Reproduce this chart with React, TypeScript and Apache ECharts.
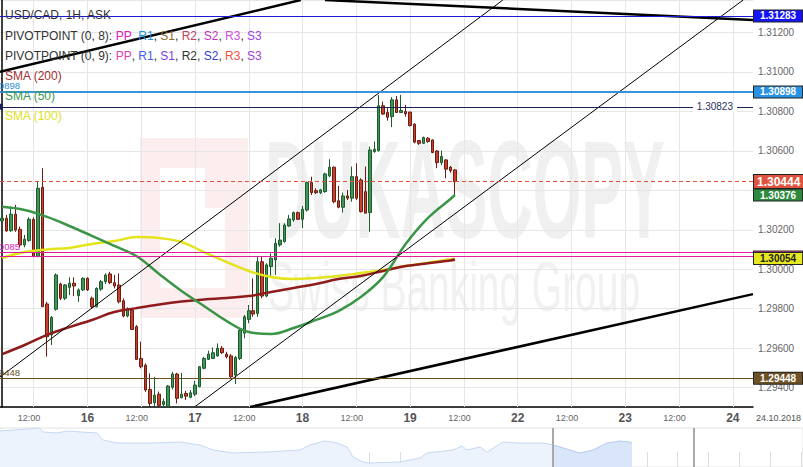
import React, { useEffect, useRef } from 'react';
import * as echarts from 'echarts';

const FONT = '"Liberation Sans", Arial, Helvetica, sans-serif';

// ---- time axis (1H slots, weekend collapsed) ----
const DAY_NAMES = ['15', '16', '17', '18', '19', '22', '23', '24'];
const FIRST_HOUR = 5;
const SLOT_COUNT = 168;

// ---- candles (USD/CAD 1H ASK) ----
const open = [1.30245,1.30258,1.30195,1.30279,1.30202,1.30123,1.30145,1.30253,1.30064,1.30415,
1.29824,1.29667,1.29797,1.29925,1.29853,1.29908,1.29929,1.29866,1.29895,1.29954,
1.29853,1.29810,1.29899,1.29937,1.29976,1.29932,1.29920,1.29840,1.29763,1.29793,
1.29709,1.29548,1.29514,1.29391,1.29323,1.29367,1.29315,1.29305,1.29402,1.29469,
1.29349,1.29371,1.29351,1.29367,1.29405,1.29498,1.29543,1.29548,1.29561,1.29600,
1.29570,1.29561,1.29464,1.29548,1.29676,1.29746,1.29790,1.29776,1.30038,1.29864,
1.30013,1.30047,1.30123,1.30140,1.30219,1.30250,1.30287,1.30253,1.30300,1.30439,
1.30398,1.30388,1.30393,1.30473,1.30517,1.30347,1.30314,1.30371,1.30360,1.30469,
1.30452,1.30393,1.30287,1.30596,1.30601,1.30828,1.30794,1.30773,1.30858,1.30794,
1.30799,1.30796,1.30735,1.30652,1.30638,1.30664,1.30655,1.30599,1.30540,1.30554,
1.30517,1.30503];
const close = [1.30258,1.30194,1.30279,1.30199,1.30123,1.30152,1.30253,1.30064,1.30410,1.29810,
1.29658,1.29756,1.29971,1.29853,1.29920,1.29929,1.29915,1.29895,1.29954,1.29895,
1.29810,1.29903,1.29937,1.29971,1.29932,1.29915,1.29835,1.29763,1.29797,1.29695,
1.29543,1.29506,1.29388,1.29320,1.29362,1.29310,1.29330,1.29408,1.29469,1.29346,
1.29367,1.29357,1.29374,1.29413,1.29506,1.29548,1.29570,1.29577,1.29600,1.29577,
1.29556,1.29455,1.29553,1.29692,1.29759,1.29790,1.29773,1.30038,1.29864,1.30022,
1.30056,1.30131,1.30148,1.30224,1.30255,1.30287,1.30253,1.30304,1.30439,1.30388,
1.30388,1.30402,1.30483,1.30517,1.30342,1.30314,1.30371,1.30360,1.30469,1.30360,
1.30292,1.30284,1.30604,1.30608,1.30828,1.30786,1.30770,1.30858,1.30794,1.30804,
1.30787,1.30728,1.30644,1.30638,1.30667,1.30647,1.30591,1.30540,1.30571,1.30507,
1.30500,1.30444];
const low = [1.30241,1.30190,1.30190,1.30190,1.30111,1.30111,1.30140,1.30061,1.30061,1.29810,
1.29557,1.29616,1.29790,1.29844,1.29844,1.29869,1.29864,1.29835,1.29891,1.29890,
1.29802,1.29807,1.29891,1.29925,1.29925,1.29903,1.29827,1.29756,1.29756,1.29692,
1.29540,1.29498,1.29379,1.29305,1.29305,1.29300,1.29300,1.29300,1.29391,1.29320,
1.29346,1.29337,1.29346,1.29357,1.29402,1.29493,1.29540,1.29548,1.29557,1.29570,
1.29548,1.29443,1.29418,1.29540,1.29650,1.29726,1.29759,1.29759,1.29853,1.29858,
1.29962,1.29971,1.30114,1.30135,1.30216,1.30241,1.30250,1.30208,1.30292,1.30376,
1.30381,1.30381,1.30388,1.30466,1.30334,1.30309,1.30287,1.30351,1.30342,1.30351,
1.30287,1.30284,1.30190,1.30590,1.30596,1.30782,1.30753,1.30720,1.30791,1.30791,
1.30773,1.30723,1.30638,1.30630,1.30635,1.30641,1.30588,1.30512,1.30528,1.30461,
1.30489,1.30376];
const high = [1.30304,1.30275,1.30317,1.30326,1.30216,1.30174,1.30263,1.30263,1.30444,1.30512,
1.29835,1.29763,1.29979,1.29932,1.29925,1.29959,1.29959,1.29903,1.29959,1.29959,
1.29861,1.29908,1.29946,1.29979,1.29987,1.29971,1.29979,1.29853,1.29807,1.29802,
1.29717,1.29633,1.29523,1.29472,1.29455,1.29380,1.29345,1.29413,1.29480,1.29475,
1.29475,1.29384,1.29388,1.29435,1.29510,1.29556,1.29587,1.29604,1.29624,1.29611,
1.29582,1.29570,1.29561,1.29700,1.29768,1.29819,1.29954,1.30064,1.30064,1.30030,
1.30081,1.30157,1.30233,1.30233,1.30275,1.30292,1.30292,1.30321,1.30444,1.30469,
1.30410,1.30407,1.30489,1.30557,1.30520,1.30422,1.30388,1.30402,1.30520,1.30537,
1.30461,1.30520,1.30621,1.30647,1.30883,1.30849,1.30816,1.30872,1.30878,1.30883,
1.30833,1.30799,1.30740,1.30655,1.30672,1.30669,1.30658,1.30604,1.30601,1.30557,
1.30523,1.30507];

// ---- moving averages (sampled at candle indices) ----
const smaIndex = [0,5,10,15,20,25,30,35,40,45,50,55,60,65,70,75,80,85,90,95,100,101];
const sma200 = [1.29570,1.29616,1.29667,1.29707,1.29743,1.29783,1.29803,1.29821,1.29836,1.29847,1.29854,1.29864,1.29885,1.29905,1.29925,1.29950,1.29966,1.29991,1.30016,1.30030,1.30044,1.30049];
const sma100 = [1.30057,1.30087,1.30100,1.30108,1.30128,1.30143,1.30163,1.30158,1.30138,1.30087,1.30037,1.29991,1.29961,1.29950,1.29956,1.29966,1.29981,1.29996,1.30016,1.30033,1.30050,1.30054];
const sma50 = [1.30316,1.30300,1.30265,1.30219,1.30169,1.30118,1.30066,1.29976,1.29890,1.29814,1.29738,1.29682,1.29672,1.29702,1.29743,1.29788,1.29859,1.29961,1.30128,1.30260,1.30356,1.30376];

// ---- horizontal levels ----
const LEVEL_TOP = 1.31283;
const LEVEL_R1 = 1.30898;
const LEVEL_MEASURE = 1.30823;
const LEVEL_PP8 = 1.30085;
const LEVEL_PP9 = 1.30068;
const LEVEL_S1 = 1.29448;
// axis labels hidden behind the price tags
const HIDDEN_TICKS = ['1.30400'];

// ---- trend lines: [slot index, price] pairs ----
const trendThickUpper = [[-0.5, 1.31000], [66.6, 1.31364]];
const trendThickTop = [[72.0, 1.31364], [167.5, 1.31263]];
const trendThickLower = [[55.3, 1.29302], [167.5, 1.29874]];
const channelUpper = [[-0.5, 1.29454], [111.7, 1.31364]];
const channelLower = [[42.9, 1.29302], [165.3, 1.31364]];

// ---- navigator ----
const navLightX = [0,4.0,4.3,5.7,6.7,9.7,10.3,11.7,15.3,18.0,20.0,21.3,23.3,26.7,30.0,31.0,32.5,33.7,34.7,35.3,36.3,37.0,40.0,42.0,42.7,45.3,46.2,46.7,48.0,48.7,50.3,51.7,54.3,55.3];
const navLightY = [1.316,1.319,1.315,1.314,1.316,1.314,1.307,1.304,1.304,1.305,1.302,1.297,1.294,1.295,1.297,1.302,1.306,1.304,1.300,1.290,1.285,1.284,1.285,1.289,1.294,1.297,1.301,1.297,1.300,1.295,1.305,1.304,1.304,1.302];
const navDarkX = [55.3,56.0,58.0,59.3,60.7,62.0,63.0,63.2];
const navDarkY = [1.302,1.300,1.294,1.297,1.304,1.306,1.305,1.304];
const navHandles = [55.3, 69.4];

function buildCategories() {
  const out: string[] = [];
  for (let k = 0; k < SLOT_COUNT; k++) {
    const t = FIRST_HOUR + k;
    const day = DAY_NAMES[Math.floor(t / 24)];
    const hh = String(t % 24).padStart(2, '0');
    out.push(`${day} ${hh}:00`);
  }
  return out;
}

const isMajor = (name: string) => name.endsWith(' 00:00') || name.endsWith(' 12:00');
const INVISIBLE = 'rgba(0,0,0,0)';

function tag(bg: string, fg: string, size = 10) {
  return {
    show: true,
    position: 'end',
    distance: 1,
    formatter: (p: any) => Number(p.value).toFixed(5),
    backgroundColor: bg,
    color: fg,
    fontSize: size,
    lineHeight: size + 1,
    fontWeight: 'bold',
    fontFamily: FONT,
    padding: size > 10 ? [0, 3, 0, 3] : [0, 6, 0, 6],
    borderColor: '#222',
    borderWidth: 1,
  };
}

function leftCut(color: string) {
  return {
    show: true,
    position: 'insideStartTop',
    align: 'right',
    distance: [20, 1],
    formatter: (p: any) => Number(p.value).toFixed(5),
    color,
    fontSize: 9.5,
    fontFamily: FONT,
  };
}

function buildOption() {
  const categories = buildCategories();
  const candleData = open.map((o, i) => [o, close[i], low[i], high[i]]);
  const pairs = (vals: number[]) => vals.map((v, i) => [smaIndex[i], v]);
  const lastClose = close[close.length - 1];

  const legendLines: { y: number; segs: [string, string][] }[] = [
    { y: 15, segs: [['USD/CAD, 1H, ASK', '#333']] },
    { y: 36, segs: [['PIVOTPOINT (0, 8): ', '#333'], ['PP', '#e020c0'], [', ', '#333'], ['R1', '#2090e8'], [', ', '#333'], ['S1', '#8b6a2a'], [', ', '#333'], ['R2', '#c04060'], [', ', '#333'], ['S2', '#c030c0'], [', ', '#333'], ['R3', '#d050e0'], [', ', '#333'], ['S3', '#a040e0']] },
    { y: 56, segs: [['PIVOTPOINT (0, 9): ', '#333'], ['PP', '#e040b0'], [', ', '#333'], ['R1', '#4060f0'], [', ', '#333'], ['S1', '#8040e0'], [', ', '#333'], ['R2', '#333'], [', ', '#333'], ['S2', '#3040d0'], [', ', '#333'], ['R3', '#f05040'], [', ', '#333'], ['S3', '#a040e0']] },
    { y: 76, segs: [['SMA (200)', '#a03030']] },
    { y: 96, segs: [['SMA (50)', '#3a9a50']] },
    { y: 116, segs: [['SMA (100)', '#e0e020']] },
  ];
  const legendGraphics = legendLines.map((ln) => {
    const rich: any = {};
    let text = '';
    ln.segs.forEach((s, i) => {
      rich['s' + i] = { fill: s[1], fontSize: 12, fontFamily: FONT };
      text += `{s${i}|${s[0]}}`;
    });
    return {
      type: 'text', x: 5, y: ln.y, z: 100,
      style: { text, rich, fontSize: 12, fontFamily: FONT, verticalAlign: 'middle', fill: '#333' },
    };
  });

  const trendSeries = [
    { d: trendThickUpper, w: 2.5 },
    { d: trendThickTop, w: 2.5 },
    { d: trendThickLower, w: 2.5 },
    { d: channelUpper, w: 1 },
    { d: channelLower, w: 1 },
  ].map((t) => ({
    type: 'line', xAxisIndex: 1, yAxisIndex: 0, data: t.d, showSymbol: false, clip: true, silent: true,
    lineStyle: { color: '#000', width: t.w }, z: 3,
  }));

  return {
    animation: false,
    backgroundColor: '#ffffff',
    textStyle: { fontFamily: FONT },
    grid: [
      { left: 0, top: 0, right: 50, bottom: 60 },
      { left: 0, right: 0, top: 428, bottom: 0, show: true, borderColor: '#e2e2e2', borderWidth: 1, backgroundColor: 'transparent' },
    ],
    xAxis: [
      {
        type: 'category', gridIndex: 0, data: categories, boundaryGap: true,
        axisLine: { show: true, lineStyle: { color: '#000', width: 1.5 } },
        axisTick: { show: false },
        splitLine: { show: false },
        axisLabel: {
          interval: (idx: number, val: string) => isMajor(val),
          margin: 4,
          formatter: (val: string) => {
            const [d, t] = val.split(' ');
            return t === '00:00' ? `{d|${d}}` : `{h|${t}}`;
          },
          rich: {
            d: { fontSize: 12, fontWeight: 'bold', color: '#555', lineHeight: 14, fontFamily: FONT },
            h: { fontSize: 9, color: '#666', lineHeight: 14, padding: [0, 9, 0, 0], fontFamily: FONT },
          },
        },
      },
      { type: 'value', gridIndex: 0, min: -0.5, max: SLOT_COUNT - 0.5, show: false },
      {
        type: 'value', gridIndex: 1, min: 0, max: 80.3, interval: 3.08,
        axisLine: { show: false }, axisLabel: { show: false }, splitLine: { show: false },
        axisTick: { show: true, inside: true, length: 15, lineStyle: { color: '#dedede' } },
      },
    ],
    yAxis: [
      {
        type: 'value', gridIndex: 0, position: 'right', min: 1.29302, max: 1.31364, splitNumber: 10,
        axisLine: { show: true, lineStyle: { color: '#000', width: 1.5 } },
        axisTick: { show: false },
        axisLabel: {
          color: '#666', fontSize: 10, margin: 5, fontFamily: FONT, showMinLabel: false, showMaxLabel: false,
          formatter: (v: number) => (HIDDEN_TICKS.includes(v.toFixed(5)) ? '' : v.toFixed(5)),
        },
        splitLine: { show: true, lineStyle: { color: '#e6e6e6', width: 1 } },
      },
      { type: 'value', gridIndex: 1, min: 1.280, max: 1.319, show: false },
    ],
    graphic: [
      { type: 'rect', z: -10, shape: { x: 140, y: 138, width: 108, height: 180 }, style: { fill: '#fcedef' } },
      { type: 'rect', z: -9, shape: { x: 160, y: 168, width: 45, height: 120 }, style: { fill: '#ffffff' } },
      { type: 'rect', z: -9, shape: { x: 205, y: 208, width: 20, height: 80 }, style: { fill: '#ffffff' } },
      { type: 'text', z: -10, x: 265, y: 190, scaleX: 0.447, style: { text: 'DUKASCOPY', font: `bold 140px ${FONT}`, fill: '#f0f0f0', verticalAlign: 'middle' } },
      { type: 'text', z: -10, x: 268, y: 287, scaleX: 0.556, style: { text: 'Swiss Banking Group', font: `70px ${FONT}`, fill: '#f1f1f1', verticalAlign: 'middle' } },
      ...legendGraphics,
      { type: 'text', x: 756, y: 418, z: 100, style: { text: '24.10.2018', fontSize: 9, fontFamily: FONT, fill: '#555', verticalAlign: 'middle' } },
    ],
    series: [
      {
        type: 'candlestick', xAxisIndex: 0, yAxisIndex: 0, data: candleData, barWidth: 3, clip: true,
        itemStyle: { color: '#3f9457', color0: '#c8402e', borderColor: '#1d5a2c', borderColor0: '#6b1d12', borderWidth: 1 },
        markLine: {
          silent: true, symbol: 'none', z: 1, label: { show: false },
          lineStyle: { color: '#e6e6e6', width: 1, type: 'solid' },
          data: categories.filter(isMajor).map((c) => ({ xAxis: c })),
        },
      },
      {
        type: 'line', name: 'SMA (100)', xAxisIndex: 1, yAxisIndex: 0, data: pairs(sma100), smooth: 0.4, showSymbol: false,
        lineStyle: { color: '#e4e41c', width: 2.5 },
      },
      {
        type: 'line', name: 'SMA (200)', xAxisIndex: 1, yAxisIndex: 0, data: pairs(sma200), smooth: 0.4, showSymbol: false,
        lineStyle: { color: '#8e1c1c', width: 2.5 },
        markLine: {
          silent: true, symbol: 'none', precision: 6, z: 6,
          data: [
            { yAxis: LEVEL_TOP, lineStyle: { color: '#1a1ad0', width: 1, type: 'solid' }, label: tag('#1414f5', '#fff') },
            { yAxis: LEVEL_R1, lineStyle: { color: '#2b8cd8', width: 1.5, type: 'solid' }, label: tag('#2a92e2', '#fff') },
            { yAxis: LEVEL_R1, lineStyle: { color: '#2b8cd8', width: 1.5, type: 'solid' }, label: leftCut('#2b8cd8') },
            {
              yAxis: LEVEL_MEASURE, symbol: ['arrow', 'arrow'], symbolSize: 6,
              lineStyle: { color: '#1c2155', width: 1, type: 'solid' },
              label: { show: true, position: 'insideEnd', distance: 16, color: '#2a3060', fontSize: 10, fontFamily: FONT, backgroundColor: '#fff', padding: [0, 4, 0, 4], formatter: (p: any) => Number(p.value).toFixed(5) },
            },
            { yAxis: lastClose, lineStyle: { color: '#e5503c', width: 1, type: [4, 3] }, label: tag('#e0533f', '#fff', 12) },
            { yAxis: sma50[sma50.length - 1], lineStyle: { color: INVISIBLE, width: 1 }, label: tag('#2f8a40', '#fff') },
            {
              yAxis: LEVEL_PP8, lineStyle: { color: '#e0209a', width: 1.2, type: 'solid' },
              label: { show: true, position: 'end', distance: 1, formatter: '{a|}', rich: { a: { width: 48, height: 2, backgroundColor: '#e0209a', borderColor: '#333', borderWidth: 1 } } },
            },
            { yAxis: LEVEL_PP8, lineStyle: { color: '#e0209a', width: 1.2, type: 'solid' }, label: leftCut('#e020c0') },
            { yAxis: LEVEL_PP9, lineStyle: { color: '#e0209a', width: 1.2, type: 'solid' }, label: { show: false } },
            { yAxis: sma100[sma100.length - 1], lineStyle: { color: INVISIBLE, width: 1 }, label: tag('#e5e81e', '#222') },
            { yAxis: LEVEL_S1, lineStyle: { color: '#6e5020', width: 1.2, type: 'solid' }, label: tag('#6e5226', '#fff') },
            { yAxis: LEVEL_S1, lineStyle: { color: '#6e5020', width: 1.2, type: 'solid' }, label: leftCut('#6e5020') },
          ],
        },
      },
      {
        type: 'line', name: 'SMA (50)', xAxisIndex: 1, yAxisIndex: 0, data: pairs(sma50), smooth: 0.4, showSymbol: false,
        lineStyle: { color: '#3a9546', width: 2.5 },
      },
      ...trendSeries,
      {
        type: 'line', xAxisIndex: 2, yAxisIndex: 1, data: navLightX.map((x, i) => [x, navLightY[i]]), showSymbol: false, silent: true,
        lineStyle: { color: '#c5d8f3', width: 1 }, areaStyle: { color: '#edf3fd', opacity: 1 },
      },
      {
        type: 'line', xAxisIndex: 2, yAxisIndex: 1, data: navDarkX.map((x, i) => [x, navDarkY[i]]), showSymbol: false, silent: true,
        lineStyle: { color: '#b3cbee', width: 1 }, areaStyle: { color: '#d9e6fa', opacity: 1 },
        markLine: {
          silent: true, symbol: 'none', label: { show: false },
          lineStyle: { color: '#a8a8a8', width: 2, type: 'solid' },
          data: navHandles.map((x) => ({ xAxis: x })),
        },
      },
    ],
  };
}

export default function App() {
  const ref = useRef<HTMLDivElement>(null);
  useEffect(() => {
    if (!ref.current) return;
    const chart = echarts.init(ref.current, null, { renderer: 'svg' });
    chart.setOption(buildOption() as any);
    return () => chart.dispose();
  }, []);
  return (
    <div
      ref={ref}
      style={{ position: 'fixed', left: 0, top: 0, width: 803, height: 467, background: '#fff' }}
    />
  );
}
